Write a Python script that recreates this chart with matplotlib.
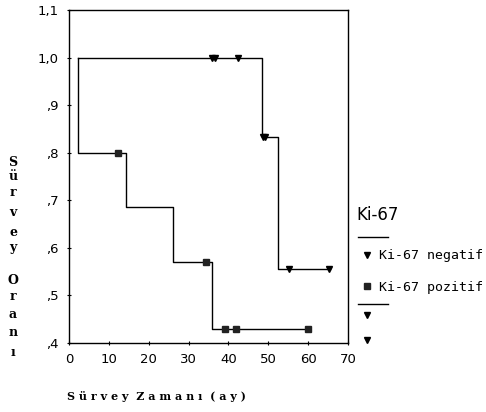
import numpy as np
from matplotlib import pyplot as plt
from matplotlib.lines import Line2D

# Ki-67 pozitif (Kaplan-Meier)
pos_t = [2.3, 2.3, 14.3, 26.1, 35.9, 60.0]
pos_s = [1.0, 0.8, 0.686, 0.571, 0.429, 0.429]
pos_cens_t = [12.3, 34.4, 39.1, 41.9, 59.9]
pos_cens_s = [0.8, 0.571, 0.429, 0.429, 0.429]

# Ki-67 negatif
neg_t = [2.3, 48.4, 52.4, 65.5]
neg_s = [1.0, 0.833, 0.556, 0.556]
neg_cens_t = [35.9, 36.7, 42.4, 48.6, 49.3, 55.2, 65.2]
neg_cens_s = [1.0, 1.0, 1.0, 0.833, 0.833, 0.556, 0.556]

xticks = [0, 10, 20, 30, 40, 50, 60, 70]
yticks = [0.4, 0.5, 0.6, 0.7, 0.8, 0.9, 1.0, 1.1]
ylabels = [',4', ',5', ',6', ',7', ',8', ',9', '1,0', '1,1']

fig = plt.figure(figsize=(4.86, 4.12), dpi=100)
ax = fig.add_axes([69/486, 1-343/412, (348-69)/486, (343-10)/412])

ax.step(neg_t, neg_s, where='post', color='black', lw=1)
ax.step(pos_t, pos_s, where='post', color='black', lw=1)
ax.plot(neg_cens_t, neg_cens_s, 'v', color='black', ms=4, ls='none')
ax.plot(pos_cens_t, pos_cens_s, 's', color='#222222', ms=4, ls='none')

ax.set_xlim(0, 70)
ax.set_ylim(0.4, 1.1)
ax.set_xticks(xticks)
ax.set_yticks(yticks)
ax.set_yticklabels(ylabels)
ax.tick_params(direction='inout', length=3, labelsize=9.5, pad=6)
for sp in ax.spines.values():
    sp.set_linewidth(1)

# y label, stacked letters
ylab = [('S', 162), ('ü', 177), ('r', 192), ('v', 212), ('e', 232), ('y', 248),
        ('O', 280), ('r', 297), ('a', 315), ('n', 333), ('ı', 353)]
for ch, py in ylab:
    fig.text(13/486, 1-py/412, ch, family='DejaVu Serif', weight='bold',
             fontsize=9, ha='center', va='center')

fig.text(156/486, 1-396/412, 'S ü r v e y  Z a m a n ı  ( a y )',
         family='DejaVu Serif', weight='bold', fontsize=8, ha='center', va='center')

# legend
fig.text(356/486, 1-215/412, 'Ki-67', fontsize=12, ha='left', va='center')
fig.add_artist(Line2D([358/486, 388/486], [1-237/412, 1-237/412], color='black', lw=1))
fig.add_artist(Line2D([367/486], [1-255/412], marker='v', color='black', ms=4, ls='none'))
fig.text(379/486, 1-256/412, 'Ki-67 negatif', family='DejaVu Sans Mono', fontsize=9.5,
         ha='left', va='center')
fig.add_artist(Line2D([367/486], [1-286/412], marker='s', color='#222222', ms=4, ls='none'))
fig.text(379/486, 1-288/412, 'Ki-67 pozitif', family='DejaVu Sans Mono', fontsize=9.5,
         ha='left', va='center')
fig.add_artist(Line2D([358/486, 388/486], [1-304/412, 1-304/412], color='black', lw=1))
fig.add_artist(Line2D([367/486], [1-315/412], marker='v', color='black', ms=4, ls='none'))
fig.add_artist(Line2D([367/486], [1-340/412], marker='v', color='black', ms=4, ls='none'))

plt.savefig('out.png', dpi=100)
